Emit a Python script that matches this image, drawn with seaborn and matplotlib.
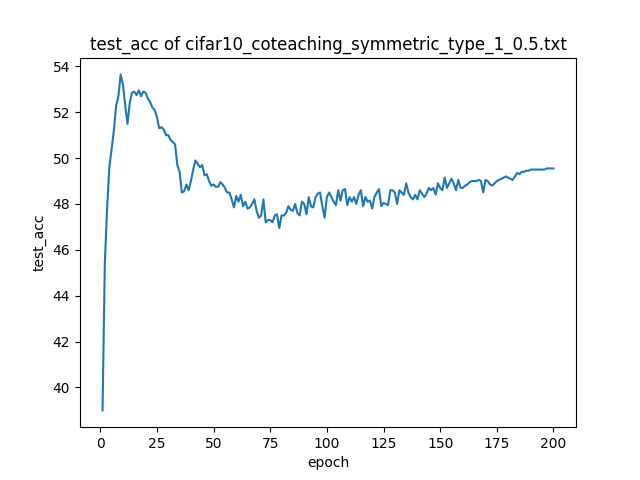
import matplotlib
matplotlib.use("Agg")
import matplotlib.pyplot as plt
import seaborn as sns
import numpy as np
import pandas as pd

acc = [
39.0, 45.4, 47.8, 49.6, 50.4, 51.2, 52.3, 52.7, 53.65, 53.2,
52.3, 51.5, 52.4, 52.85, 52.9, 52.75, 52.95, 52.7, 52.9, 52.85,
52.6, 52.45, 52.2, 52.1, 51.8, 51.3, 51.35, 51.25, 51.0, 51.0,
50.8, 50.7, 50.6, 49.7, 49.4, 48.5, 48.55, 48.85, 48.6, 49.0,
49.5, 49.9, 49.75, 49.6, 49.7, 49.25, 49.3, 49.0, 48.8, 48.85,
48.75, 48.75, 48.95, 48.85, 48.7, 48.5, 48.5, 48.2, 47.85, 48.35,
48.1, 48.4, 47.9, 48.1, 47.8, 47.85, 48.0, 48.2, 47.7, 47.4,
47.5, 48.2, 47.2, 47.3, 47.3, 47.2, 47.5, 47.55, 46.95, 47.5,
47.5, 47.6, 47.9, 47.75, 47.7, 48.0, 47.6, 47.5, 48.1, 48.0,
47.55, 48.3, 47.9, 47.85, 48.3, 48.45, 48.5, 47.9, 47.4, 48.3,
48.5, 48.3, 48.1, 47.95, 48.6, 48.15, 48.6, 48.65, 47.95, 48.3,
48.1, 48.3, 48.0, 48.4, 48.6, 47.9, 48.3, 48.1, 48.15, 47.8,
48.3, 48.5, 48.65, 47.9, 48.05, 48.0, 47.95, 48.6, 48.6, 48.5,
48.0, 48.6, 48.5, 48.4, 48.9, 48.5, 48.3, 48.2, 48.4, 48.2,
48.6, 48.45, 48.3, 48.45, 48.7, 48.6, 48.7, 48.4, 48.9, 48.7,
48.6, 49.15, 48.7, 48.9, 49.1, 48.9, 48.6, 49.05, 48.7, 48.7,
48.8, 48.85, 48.95, 49.0, 49.0, 49.0, 49.05, 49.0, 48.5, 49.05,
49.0, 48.85, 48.8, 48.9, 49.0, 49.05, 49.1, 49.15, 49.2, 49.15,
49.1, 49.05, 49.2, 49.35, 49.3, 49.4, 49.4, 49.45, 49.45, 49.5,
49.5, 49.5, 49.5, 49.5, 49.5, 49.5, 49.55, 49.55, 49.55, 49.55,
]
epochs = list(range(1, len(acc) + 1))
df = pd.DataFrame({"epoch": epochs, "test_acc": acc})

fig, ax = plt.subplots(figsize=(6.4, 4.8), dpi=100)
sns.lineplot(data=df, x="epoch", y="test_acc", ax=ax, color="#1f77b4")
ax.set_title("test_acc of cifar10_coteaching_symmetric_type_1_0.5.txt")
ax.set_xlabel("epoch")
ax.set_ylabel("test_acc")
fig.savefig("out.png", dpi=100)
